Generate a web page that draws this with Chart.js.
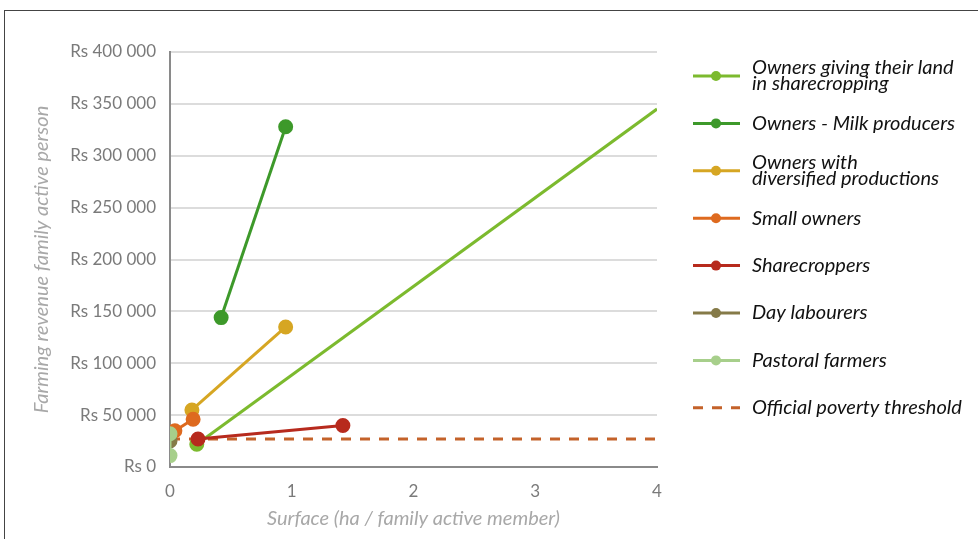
<!DOCTYPE html>
<html>
<head>
<meta charset="utf-8">
<script src="https://cdn.jsdelivr.net/npm/chart.js@4.4.1/dist/chart.umd.min.js"></script>
<style>
  html, body { margin: 0; padding: 0; background: #fff; }
  #wrap { position: relative; width: 978px; height: 539px; }
  #frame { position: absolute; left: 4px; top: 10px; right: -2px; bottom: -2px; border-left: 1px solid #444; border-top: 1px solid #444; pointer-events: none; }
</style>
</head>
<body>
<div id="wrap">
  <canvas id="myChart" width="978" height="539"></canvas>
  <div id="frame"></div>
</div>
<script>
// values (x = ha per family active member, y = Rs)
const giveLand = [{x: 0.22, y: 22000}, {x: 4, y: 345000}];
const milkProducers = [{x: 0.42, y: 144000}, {x: 0.95, y: 328000}];
const diversified = [{x: 0.18, y: 55000}, {x: 0.95, y: 135000}];
const smallOwners = [{x: 0.04, y: 35000}, {x: 0.19, y: 46000}];
const sharecroppers = [{x: 0.23, y: 27000}, {x: 1.42, y: 40000}];
const dayLabourers = [{x: 0, y: 25000}];
const pastoral = [{x: 0, y: 32000}, {x: 0, y: 11000}];
const povertyLine = [{x: 0, y: 27000}, {x: 4, y: 27000}];

const seriesNames = [
    ['Owners giving their land', 'in sharecropping'],
    ['Owners - Milk producers'],
    ['Owners with', 'diversified productions'],
    ['Small owners'],
    ['Sharecroppers'],
    ['Day labourers'],
    ['Pastoral farmers'],
    ['Official poverty threshold']
];
const seriesColors = ['#7cba2e', '#3d992a', '#d6a623', '#de6a1f', '#b72a1d', '#857a48', '#a7cf8b', '#c4622a'];
const xTicks = [0, 1, 2, 3, 4];

const legendPlugin = {
    id: 'sideLegend',
    afterDraw(chart) {
        const ctx = chart.ctx;
        ctx.save();
        ctx.font = 'italic 20px Lato';
        ctx.textBaseline = 'middle';
        chart.data.datasets.forEach((ds, i) => {
            const y = 76 + i * 47.4;
            ctx.strokeStyle = ds.borderColor;
            ctx.lineWidth = 3;
            ctx.setLineDash(ds.borderDash || []);
            ctx.beginPath();
            ctx.moveTo(693, y);
            ctx.lineTo(740, y);
            ctx.stroke();
            ctx.setLineDash([]);
            if (!ds.borderDash) {
                ctx.fillStyle = ds.borderColor;
                ctx.beginPath();
                ctx.arc(716, y, 5, 0, Math.PI * 2);
                ctx.fill();
            }
            ctx.fillStyle = '#111';
            const lines = seriesNames[i];
            lines.forEach((t, j) => {
                const ty = y + (j - (lines.length - 1) / 2) * 16;
                ctx.fillText(t, 752, ty);
            });
        });
        ctx.restore();
    }
};

function line(data, idx, extra) {
    return Object.assign({
        label: seriesNames[idx].join(' '),
        data: data,
        borderColor: seriesColors[idx],
        backgroundColor: seriesColors[idx],
        borderWidth: 3,
        pointRadius: 6,
        pointHoverRadius: 6,
        showLine: true,
        fill: false,
        order: 8 - idx,
    }, extra || {});
}

const ctx = document.getElementById('myChart').getContext('2d');
const myChart = new Chart(ctx, {
    type: 'scatter',
    data: {
        datasets: [
            line(giveLand, 0, {pointRadius: [6, 0]}),
            line(milkProducers, 1),
            line(diversified, 2),
            line(smallOwners, 3),
            line(sharecroppers, 4),
            line(dayLabourers, 5),
            line(pastoral, 6),
            line(povertyLine, 7, {pointRadius: 0, borderDash: [10, 9], borderWidth: 3, order: 20}),
        ]
    },
    options: {
        responsive: false,
        animation: false,
        layout: { padding: { left: 30, top: 52, right: 321, bottom: 8 } },
        plugins: { legend: { display: false }, tooltip: { enabled: false } },
        scales: {
            x: {
                type: 'linear',
                min: 0, max: 4,
                afterBuildTicks: scale => { scale.ticks = xTicks.map(v => ({value: v})); },
                afterFit: scale => { scale.height = 64; },
                grid: { drawOnChartArea: false, drawTicks: false },
                border: { display: true, color: '#8a8a8a', width: 2 },
                ticks: { color: '#7a7a7a', font: { family: 'Lato', size: 17 }, padding: 14 },
                title: { display: true, text: 'Surface (ha / family active member)', color: '#a8a8a8',
                         font: { family: 'Lato', size: 20, style: 'italic' }, padding: { top: 0, bottom: 0 } }
            },
            y: {
                min: 0, max: 400000,
                ticks: { stepSize: 50000, color: '#7a7a7a', font: { family: 'Lato', size: 17 }, padding: 14,
                         callback: v => 'Rs ' + String(v).replace(/\B(?=(\d{3})+(?!\d))/g, ' ') },
                afterFit: scale => { scale.width = 140; },
                grid: { color: '#dcdcdc', lineWidth: 2, drawTicks: false },
                border: { display: true, color: '#8a8a8a', width: 2 },
                title: { display: true, text: 'Farming revenue family active person', color: '#a8a8a8',
                         font: { family: 'Lato', size: 20, style: 'italic' }, padding: 0 }
            }
        }
    },
    plugins: [legendPlugin]
});
</script>
</body>
</html>
